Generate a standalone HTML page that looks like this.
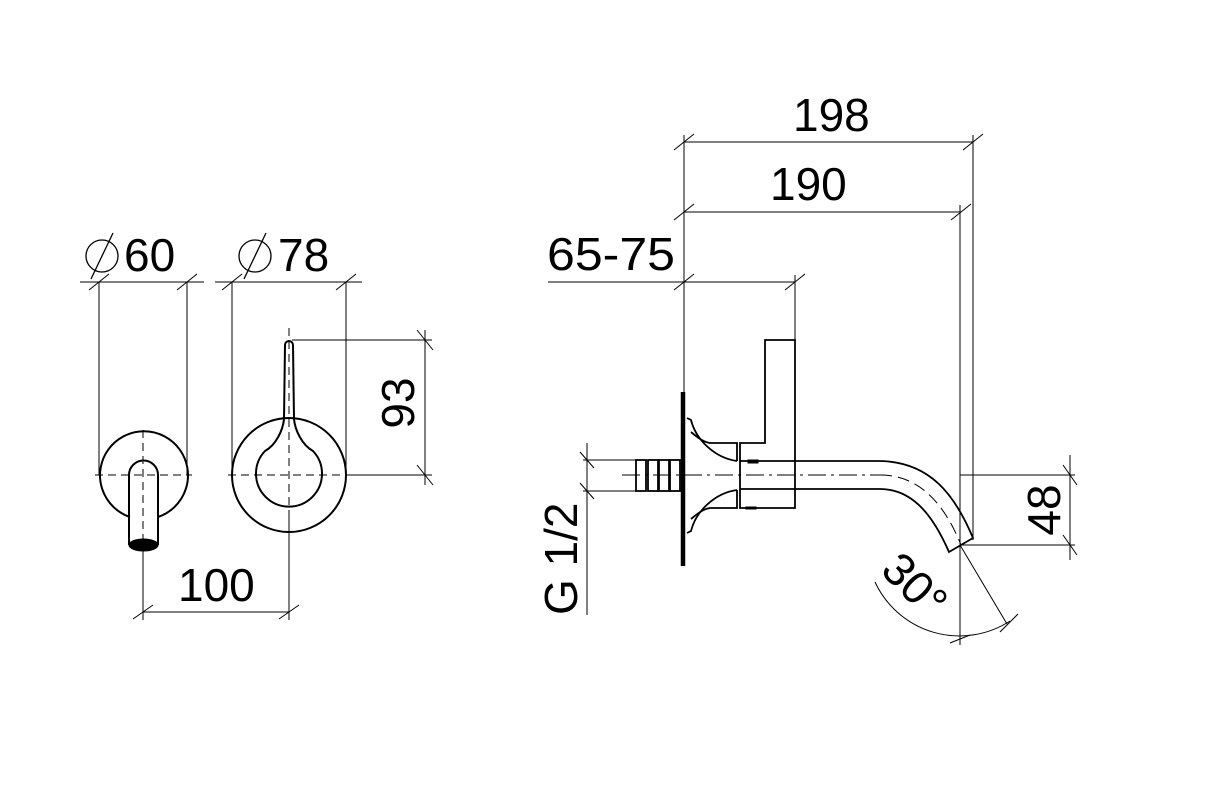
<!DOCTYPE html>
<html><head><meta charset="utf-8"><style>
html,body{margin:0;padding:0;background:#fff;}
svg{display:block;}
text{font-family:"Liberation Sans",sans-serif;fill:#000;}
</style></head><body>
<svg width="1205" height="800" viewBox="0 0 1205 800" xmlns="http://www.w3.org/2000/svg">
<g fill="none" stroke="#000">
<g stroke-width="1">
<line x1="80" y1="282" x2="204" y2="282"/>
<line x1="99" y1="282" x2="99" y2="475"/>
<line x1="187" y1="282" x2="187" y2="475"/>
<line x1="89" y1="290" x2="109" y2="274"/>
<line x1="177" y1="290" x2="197" y2="274"/>
<line x1="215" y1="282" x2="362" y2="282"/>
<line x1="232" y1="282" x2="232" y2="475"/>
<line x1="346" y1="282" x2="346" y2="475"/>
<line x1="222" y1="290" x2="242" y2="274"/>
<line x1="336" y1="290" x2="356" y2="274"/>
<line x1="292" y1="340" x2="432" y2="340"/>
<line x1="346" y1="475" x2="432" y2="475"/>
<line x1="425" y1="330" x2="425" y2="485"/>
<line x1="417" y1="330" x2="433" y2="350"/>
<line x1="417" y1="465" x2="433" y2="485"/>
<line x1="143" y1="548" x2="143" y2="620"/>
<line x1="289" y1="510" x2="289" y2="620"/>
<line x1="143" y1="612" x2="289" y2="612"/>
<line x1="133" y1="619" x2="153" y2="605"/>
<line x1="279" y1="619" x2="299" y2="605"/>
<line x1="95" y1="475" x2="192" y2="475" stroke-dasharray="8,5"/>
<line x1="143" y1="430" x2="143" y2="548" stroke-dasharray="8,5"/>
<line x1="228" y1="475" x2="350" y2="475" stroke-dasharray="8,5"/>
<line x1="289" y1="328" x2="289" y2="530" stroke-dasharray="8,5"/>
</g>
<g stroke-width="2">
<path d="M130 517 A44 44 0 1 1 158 517"/>
<path d="M129 545 L129 475 A14.5 14.5 0 0 1 158 475 L158 545"/>
<circle cx="289" cy="475" r="57"/>
<path d="M284 419 C283 430 276 445 265 451 A33 33 0 1 0 313 451 C302 445 295 430 294 419 L293 345 A4 4 0 0 0 285 345 Z"/>
</g>
<ellipse cx="143.5" cy="545" rx="14.5" ry="6" fill="#000"/>
<g stroke-width="1.3">
<circle cx="102" cy="256" r="16"/>
<line x1="91" y1="279" x2="113" y2="233"/>
<circle cx="255" cy="256" r="16"/>
<line x1="244" y1="279" x2="266" y2="233"/>
</g>

<g stroke-width="1">
<line x1="684" y1="135" x2="684" y2="392"/>
<line x1="684" y1="142" x2="973" y2="142"/>
<line x1="973" y1="135" x2="973" y2="540"/>
<line x1="684" y1="212" x2="961" y2="212"/>
<line x1="960" y1="205" x2="960" y2="645"/>
<line x1="548" y1="282" x2="795" y2="282"/>
<line x1="795" y1="275" x2="795" y2="340"/>
<line x1="674" y1="150" x2="694" y2="134"/>
<line x1="963" y1="150" x2="983" y2="134"/>
<line x1="674" y1="220" x2="694" y2="204"/>
<line x1="951" y1="220" x2="971" y2="204"/>
<line x1="674" y1="290" x2="694" y2="274"/>
<line x1="785" y1="290" x2="805" y2="274"/>
<line x1="583" y1="460" x2="636" y2="460"/>
<line x1="583" y1="491" x2="636" y2="491"/>
<line x1="587" y1="443" x2="587" y2="615"/>
<line x1="580" y1="452" x2="594" y2="468"/>
<line x1="580" y1="483" x2="594" y2="499"/>
<line x1="960" y1="475" x2="1075" y2="475"/>
<line x1="960" y1="545" x2="1075" y2="545"/>
<line x1="1070" y1="455" x2="1070" y2="560"/>
<line x1="1063" y1="465" x2="1077" y2="485"/>
<line x1="1063" y1="535" x2="1077" y2="555"/>
<line x1="960" y1="545" x2="1007" y2="624"/>
<path d="M875 582 A93 93 0 0 0 1010 621"/>
<line x1="950" y1="643" x2="970" y2="635"/>
<line x1="1000" y1="632" x2="1018" y2="614"/>
<line x1="622" y1="475" x2="880" y2="475" stroke-dasharray="18,5,3,5"/>
<path d="M880 475 C920 475 945 505 961 545" stroke-dasharray="12,6"/>
</g>
<line x1="683" y1="392" x2="683" y2="566" stroke-width="4.5"/>
<g stroke-width="1.8">
<rect x="636" y="460" width="10" height="31"/>
<rect x="648" y="460" width="10" height="31"/>
<rect x="659" y="460" width="10" height="31"/>
<rect x="670" y="460" width="10" height="31"/>
<path d="M687 418 L691 420 C696 440 715 458 737 461"/>
<path d="M687 533 L691 531 C696 511 715 493 737 490"/>
<path d="M691 432 C697 437 703 442 710 443 L737 443 L737 461"/>
<path d="M691 519 C697 514 703 509 710 508 L737 508 L737 490"/>
<path d="M740 443 L740 508 L795 508 L795 340 L765 340 L765 443 Z"/>
<path d="M740 461 L878 461 C930 461 955 495 973 538 L949 552 C935 520 915 489 880 489 L740 489"/>
</g>
<rect x="748" y="460" width="10" height="3" fill="#000"/>
<rect x="746" y="507" width="10" height="2" fill="#000"/>
</g>

<g font-size="46">
<text x="124" y="271">60</text>
<text x="278" y="271">78</text>
<text x="178" y="601">100</text>
<text x="793" y="131">198</text>
<text x="770" y="200">190</text>
<text x="547" y="270" textLength="128" lengthAdjust="spacingAndGlyphs">65-75</text>
<text transform="translate(414,403) rotate(-90)" text-anchor="middle">93</text>
<text transform="translate(577,615) rotate(-90)">G 1/2</text>
<text transform="translate(1060,510) rotate(-90)" text-anchor="middle">48</text>
<text transform="translate(915,585) rotate(45)" text-anchor="middle" dy="16">30°</text>
</g>
</svg>
</body></html>
